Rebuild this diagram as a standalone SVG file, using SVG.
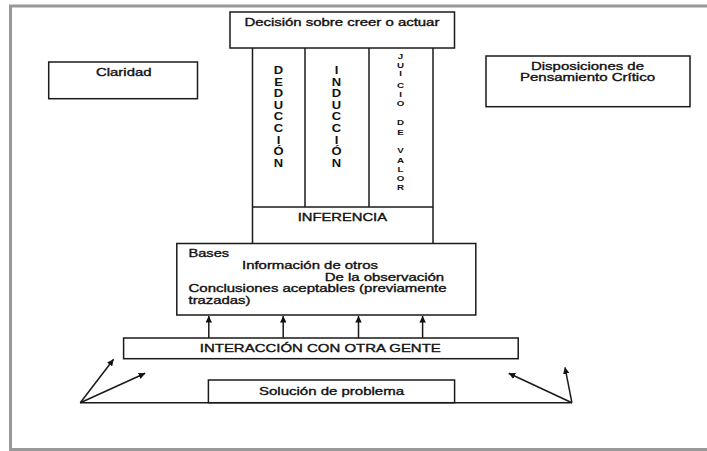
<svg xmlns="http://www.w3.org/2000/svg" width="707" height="451" viewBox="0 0 707 451">
<style>
.box{fill:#fff;stroke:#1a1a1a;stroke-width:1.5}
.ln{stroke:#1a1a1a;stroke-width:1.5;fill:none}
.t{font-family:"Liberation Sans",Arial,sans-serif;font-size:11px;fill:#111;stroke:#111;stroke-width:0.35}
.v{font-family:"Liberation Sans",Arial,sans-serif;font-size:10px;fill:#111;font-weight:bold;text-anchor:middle}
.vs{font-family:"Liberation Sans",Arial,sans-serif;font-size:7.5px;fill:#111;font-weight:bold;text-anchor:middle}
</style>
<defs>
<marker id="ah" viewBox="0 0 10 10" refX="10" refY="5" markerWidth="6.5" markerHeight="6.5" markerUnits="userSpaceOnUse" orient="auto">
<path d="M0,0 L10,5 L0,10 z" fill="#111"/>
</marker>
</defs>
<rect x="10.5" y="6" width="720" height="443.5" fill="#fff" stroke="#999" stroke-width="3"/>

<g id="decision">
<rect class="box" x="230" y="12" width="224.5" height="36"/>
<text class="t" x="244.4" y="25.5" textLength="195" lengthAdjust="spacingAndGlyphs">Decisión sobre creer o actuar</text>
</g>

<g id="columnas">
<line class="ln" x1="252.5" y1="48" x2="252.5" y2="243.5"/>
<line class="ln" x1="433" y1="48" x2="433" y2="243.5"/>
<line class="ln" x1="305" y1="48" x2="305" y2="207"/>
<line class="ln" x1="369" y1="48" x2="369" y2="207"/>
</g>

<g id="deduccion" transform="translate(278.5,0) scale(1.3,1)">
<text class="v"><tspan x="0" y="74">D</tspan><tspan x="0" y="85.6">E</tspan><tspan x="0" y="97.2">D</tspan><tspan x="0" y="108.8">U</tspan><tspan x="0" y="120.4">C</tspan><tspan x="0" y="132">C</tspan><tspan x="0" y="143.6">I</tspan><tspan x="0" y="155.2">Ó</tspan><tspan x="0" y="166.8">N</tspan></text>
</g>

<g id="induccion" transform="translate(336.5,0) scale(1.3,1)">
<text class="v"><tspan x="0" y="74">I</tspan><tspan x="0" y="85.6">N</tspan><tspan x="0" y="97.2">D</tspan><tspan x="0" y="108.8">U</tspan><tspan x="0" y="120.4">C</tspan><tspan x="0" y="132">C</tspan><tspan x="0" y="143.6">I</tspan><tspan x="0" y="155.2">Ó</tspan><tspan x="0" y="166.8">N</tspan></text>
</g>

<g id="juicio" transform="translate(400.5,0) scale(1.3,1)">
<text class="vs"><tspan x="0" y="59.5">J</tspan><tspan x="0" y="68.5">U</tspan><tspan x="0" y="76.5">I</tspan><tspan x="0" y="88">C</tspan><tspan x="0" y="97">I</tspan><tspan x="0" y="106">O</tspan><tspan x="0" y="125.5">D</tspan><tspan x="0" y="135.5">E</tspan><tspan x="0" y="153.5">V</tspan><tspan x="0" y="162.8">A</tspan><tspan x="0" y="172">L</tspan><tspan x="0" y="181.2">O</tspan><tspan x="0" y="190.5">R</tspan></text>
</g>

<g id="inferencia">
<line class="ln" x1="252.5" y1="207" x2="433" y2="207"/>
<text class="t" x="297.7" y="221" textLength="89.3" lengthAdjust="spacingAndGlyphs">INFERENCIA</text>
</g>

<g id="claridad">
<rect class="box" x="48.7" y="62" width="148.8" height="36.7"/>
<text class="t" x="96" y="76" textLength="55.5" lengthAdjust="spacingAndGlyphs">Claridad</text>
</g>

<g id="disposiciones">
<rect class="box" x="486" y="56" width="204" height="50.7"/>
<text class="t" x="531" y="69.5" textLength="113" lengthAdjust="spacingAndGlyphs">Disposiciones de</text>
<text class="t" x="520" y="81" textLength="135" lengthAdjust="spacingAndGlyphs">Pensamiento Crítico</text>
</g>

<g id="bases">
<rect class="box" x="176.8" y="243.5" width="299" height="71.5"/>
<text class="t" x="188.5" y="257" textLength="40.6" lengthAdjust="spacingAndGlyphs">Bases</text>
<text class="t" x="242" y="269" textLength="136" lengthAdjust="spacingAndGlyphs">Información de otros</text>
<text class="t" x="324.7" y="280.7" textLength="119.5" lengthAdjust="spacingAndGlyphs">De la observación</text>
<text class="t" x="188.5" y="292.3" textLength="258" lengthAdjust="spacingAndGlyphs">Conclusiones aceptables (previamente</text>
<text class="t" x="188.5" y="304" textLength="62" lengthAdjust="spacingAndGlyphs">trazadas)</text>
</g>

<g id="interaccion">
<rect class="box" x="123.6" y="338" width="394.6" height="20.7"/>
<text class="t" x="199.8" y="351.5" textLength="241" lengthAdjust="spacingAndGlyphs">INTERACCIÓN CON OTRA GENTE</text>
</g>

<g id="solucion">
<rect class="box" x="208.4" y="380" width="246.2" height="22.7"/>
<text class="t" x="259" y="395" textLength="145" lengthAdjust="spacingAndGlyphs">Solución de problema</text>
</g>

<g id="conectores">
<line class="ln" x1="208.8" y1="338" x2="208.8" y2="316" marker-end="url(#ah)"/>
<line class="ln" x1="283.2" y1="338" x2="283.2" y2="316" marker-end="url(#ah)"/>
<line class="ln" x1="358.5" y1="338" x2="358.5" y2="316" marker-end="url(#ah)"/>
<line class="ln" x1="422.6" y1="338" x2="422.6" y2="316" marker-end="url(#ah)"/>
<line class="ln" x1="80.3" y1="402.7" x2="571.9" y2="402.7"/>
<line class="ln" x1="80.3" y1="402.7" x2="113.6" y2="359.3" marker-end="url(#ah)"/>
<line class="ln" x1="80.3" y1="402.7" x2="145.2" y2="373.3" marker-end="url(#ah)"/>
<line class="ln" x1="571.9" y1="402.7" x2="508.7" y2="373.3" marker-end="url(#ah)"/>
<line class="ln" x1="571.9" y1="402.7" x2="565" y2="367.3" marker-end="url(#ah)"/>
</g>
</svg>
